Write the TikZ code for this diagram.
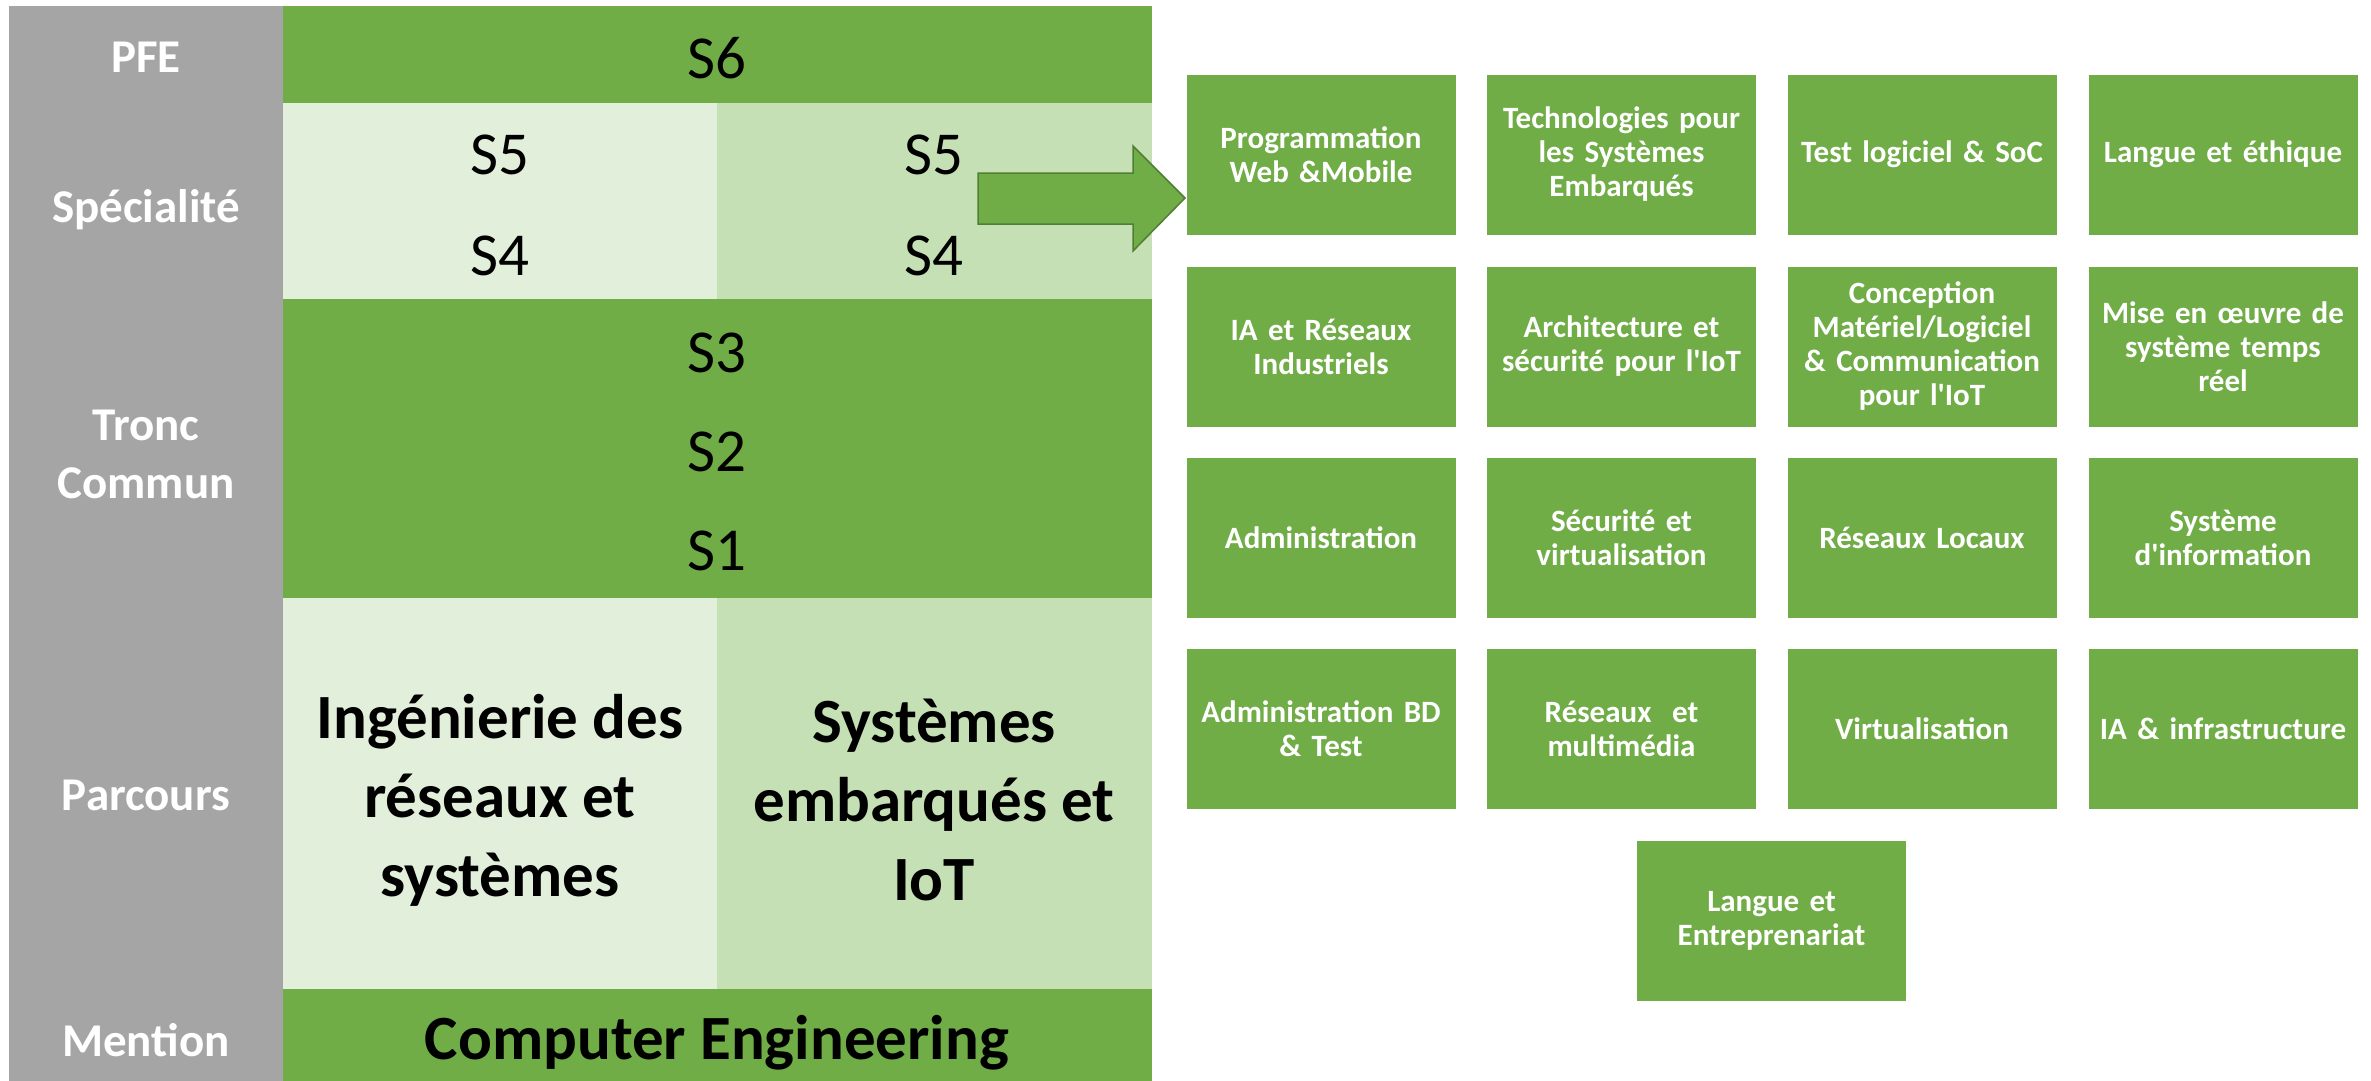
\documentclass[tikz,border=0pt]{standalone}
\usepackage{fontspec}
\setmainfont{Carlito}[Ligatures=TeXOff]
\definecolor{grayc}{HTML}{A5A5A5}
\definecolor{greenc}{HTML}{70AD47}
\definecolor{lightA}{HTML}{E2EFDA}
\definecolor{lightB}{HTML}{C5E0B4}
\definecolor{arrowline}{HTML}{507E32}
\begin{document}
\begin{tikzpicture}[x=1pt,y=-1pt,
  rowlabel/.style={text=white,font=\fontsize{47}{58}\selectfont\bfseries,align=center,inner sep=0pt},
  semlabel/.style={text=black,font=\fontsize{61}{70}\selectfont,inner sep=0pt},
  bigname/.style={text=black,font=\fontsize{63}{79}\selectfont\bfseries,align=center,inner sep=0pt},
  module/.style={fill=greenc,draw=white,line width=1pt,minimum width=270pt,minimum height=161pt,
    text=white,font=\fontsize{31}{34}\selectfont\bfseries,align=center,inner sep=2pt,text width=262pt}]
\useasboundingbox (0,0) rectangle (2371,1081);
% left table
\fill[grayc] (9,6) rectangle (283,1081);
\fill[greenc] (283,6) rectangle (1152,103);
\fill[lightA] (283,103) rectangle (717,299);
\fill[lightB] (717,103) rectangle (1152,299);
\fill[greenc] (283,299) rectangle (1152,598);
\fill[lightA] (283,598) rectangle (717,989);
\fill[lightB] (717,598) rectangle (1152,989);
\fill[greenc] (283,989) rectangle (1152,1081);
% row labels
\node[rowlabel] (pfe) at (146,57) {PFE};
\node[rowlabel] (spec) at (146,210) {Spécialité};
\node[rowlabel] (tronc) at (146,454) {Tronc\\Commun};
\node[rowlabel] (parc) at (146,795) {Parcours};
\node[rowlabel] (mention) at (146,1040) {Mention};
% semesters
\node[semlabel] (s6) at (717,58) {S6};
\node[semlabel] (s5a) at (500,155) {S5};
\node[semlabel] (s4a) at (500,256) {S4};
\node[semlabel] (s5b) at (934,155) {S5};
\node[semlabel] (s4b) at (934,256) {S4};
\node[semlabel] (s3) at (717,353) {S3};
\node[semlabel] (s2) at (717,452) {S2};
\node[semlabel] (s1) at (717,551) {S1};
% parcours
\node[bigname] (irs) at (500,800) {Ingénierie des\\réseaux et\\systèmes};
\node[bigname] (sei) at (934,800) {Systèmes\\embarqués et\\IoT};
\node[bigname] (ce) at (717,1043) {Computer Engineering};
% arrow
\draw[fill=greenc,draw=arrowline,line width=1.5pt,line join=miter]
  (978,173) -- (1133,173) -- (1133,146) -- (1185,198) -- (1133,251) -- (1133,224) -- (978,224) -- cycle;
% modules
\node[module] (m1) at (1321,154.5) {Programmation\\Web \&Mobile};
\node[module] (m2) at (1621.5,154.5) {Technologies pour\\les Systèmes\\Embarqués};
\node[module] (m3) at (1922,154.5) {Test logiciel \& SoC};
\node[module] (m4) at (2223,154.5) {Langue et éthique};
\node[module] (m5) at (1321,346.5) {IA et Réseaux\\Industriels};
\node[module] (m6) at (1621.5,346.5) {Architecture et\\sécurité pour l'IoT};
\node[module] (m7) at (1922,346.5) {Conception\\Matériel/Logiciel\\\& Communication\\pour l'IoT};
\node[module] (m8) at (2223,346.5) {Mise en œuvre de\\système temps\\réel};
\node[module] (m9) at (1321,537.5) {Administration};
\node[module] (m10) at (1621.5,537.5) {Sécurité et\\virtualisation};
\node[module] (m11) at (1922,537.5) {Réseaux Locaux};
\node[module] (m12) at (2223,537.5) {Système\\d'information};
\node[module] (m13) at (1321,728.5) {Administration BD\\\& Test};
\node[module] (m14) at (1621.5,728.5) {Réseaux~ et\\multimédia};
\node[module] (m15) at (1922,728.5) {Virtualisation};
\node[module] (m16) at (2223,728.5) {IA \& infrastructure};
\node[module] (m17) at (1771.5,920.5) {Langue et\\Entreprenariat};
\end{tikzpicture}
\end{document}
